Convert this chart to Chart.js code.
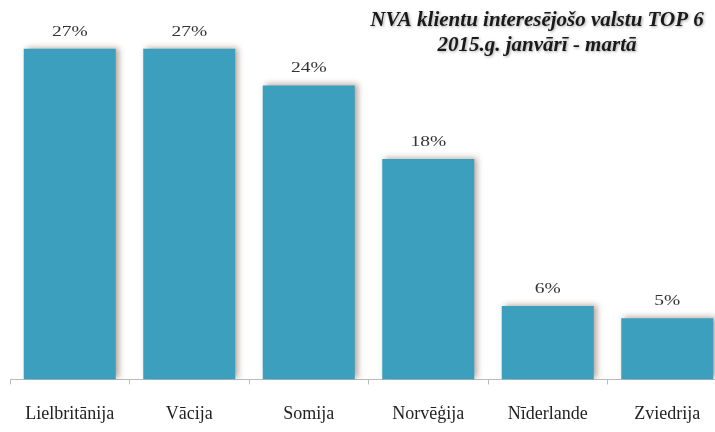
<!DOCTYPE html>
<html>
<head>
<meta charset="utf-8">
<script src="https://cdn.jsdelivr.net/npm/chart.js@4"></script>
<style>
html,body{margin:0;padding:0;background:#fff;overflow:hidden;width:715px;height:432px;}
canvas{display:block;}
</style>
</head>
<body>
<canvas id="c" width="730" height="432"></canvas>
<script>
const categories = ['Lielbritānija', 'Vācija', 'Somija', 'Norvēģija', 'Nīderlande', 'Zviedrija'];
const shares = [27, 27, 24, 18, 6, 5];
const titleLines = ['NVA klientu interesējošo valstu TOP 6', '2015.g. janvārī - martā'];

const shadowPlugin = {
  id: 'barShadow',
  beforeDatasetsDraw(chart) {
    const ctx = chart.ctx;
    ctx.save();
    ctx.shadowColor = 'rgba(90,60,40,0.45)';
    ctx.shadowBlur = 6;
    ctx.shadowOffsetX = 3;
    ctx.shadowOffsetY = -1;
  },
  afterDatasetsDraw(chart) {
    chart.ctx.restore();
    const ctx = chart.ctx;
    const meta = chart.getDatasetMeta(0);
    ctx.save();
    ctx.font = '15px "Liberation Serif", "Times New Roman", serif';
    ctx.fillStyle = '#333';
    ctx.textAlign = 'center';
    ctx.textBaseline = 'middle';
    meta.data.forEach((bar, i) => {
      ctx.save();
      ctx.translate(bar.x, bar.y - 17);
      ctx.scale(1.3, 1);
      ctx.fillText(shares[i] + '%', 0, 0);
      ctx.restore();
    });
    ctx.restore();
  }
};

const titlePlugin = {
  id: 'cornerTitle',
  afterDraw(chart) {
    const ctx = chart.ctx;
    ctx.save();
    ctx.font = 'italic bold 21px "Liberation Serif", "Times New Roman", serif';
    ctx.fillStyle = '#1a1a1a';
    ctx.textAlign = 'center';
    ctx.textBaseline = 'middle';
    ctx.shadowColor = 'rgba(0,0,0,0.35)';
    ctx.shadowBlur = 3;
    ctx.shadowOffsetX = 1;
    ctx.shadowOffsetY = 1;
    ctx.fillText(titleLines[0], 537, 21);
    ctx.fillText(titleLines[1], 537, 46);
    ctx.restore();
  }
};

new Chart(document.getElementById('c'), {
  type: 'bar',
  data: {
    labels: categories,
    datasets: [{
      data: shares,
      backgroundColor: '#3b9fbd',
      borderWidth: 0,
      barPercentage: 0.77,
      categoryPercentage: 1
    }]
  },
  options: {
    responsive: false,
    animation: false,
    layout: { padding: { left: 10, right: 3, top: 12, bottom: -12 } },
    plugins: { legend: { display: false }, tooltip: { enabled: false } },
    scales: {
      x: {
        offset: true,
        grid: {
          offset: true,
          drawOnChartArea: false,
          drawTicks: true,
          tickLength: 5,
          color: '#bbb'
        },
        border: { display: true, color: '#bbb', width: 1 },
        ticks: {
          color: '#222',
          padding: 19,
          font: { family: '"Liberation Serif", "Times New Roman", serif', size: 18 },
          maxRotation: 0
        }
      },
      y: {
        display: false,
        min: 0,
        max: 30
      }
    }
  },
  plugins: [shadowPlugin, titlePlugin]
});
</script>
</body>
</html>
